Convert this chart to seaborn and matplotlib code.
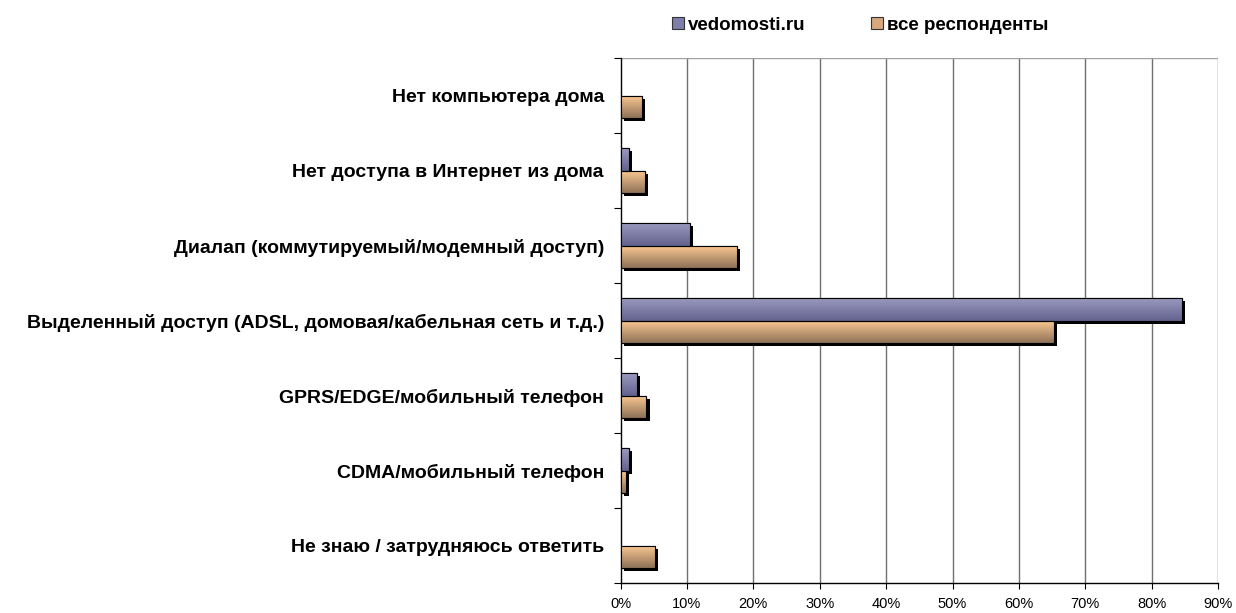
import numpy as np
import pandas as pd
import matplotlib
matplotlib.use("Agg")
import matplotlib.pyplot as plt
import matplotlib.patheffects as pe
from matplotlib.patches import Rectangle
from matplotlib.colors import LinearSegmentedColormap
import seaborn as sns

# data
categories = [
    "Нет компьютера дома",
    "Нет доступа в Интернет из дома",
    "Диалап (коммутируемый/модемный доступ)",
    "Выделенный доступ (ADSL, домовая/кабельная сеть и т.д.)",
    "GPRS/EDGE/мобильный телефон",
    "CDMA/мобильный телефон",
    "Не знаю / затрудняюсь ответить",
]
series_names = ["vedomosti.ru", "все респонденты"]
vedomosti = [0.0, 1.2, 10.5, 84.5, 2.5, 1.3, 0.0]
all_resp = [3.2, 3.7, 17.5, 65.3, 3.9, 0.8, 5.2]
x_ticks = list(range(0, 100, 10))

df = pd.DataFrame({
    "category": categories * 2,
    "series": [series_names[0]] * len(categories) + [series_names[1]] * len(categories),
    "value": vedomosti + all_resp,
})

sns.set_style("white")
plt.rcParams["font.family"] = ["Liberation Sans", "DejaVu Sans"]
plt.rcParams["text.color"] = "black"
plt.rcParams["xtick.color"] = "black"
plt.rcParams["ytick.color"] = "black"

flat = {series_names[0]: "#7a7aa8", series_names[1]: "#e0b088"}
grads = {
    series_names[0]: LinearSegmentedColormap.from_list("v", ["#9a9abf", "#62628f"]),
    series_names[1]: LinearSegmentedColormap.from_list("a", ["#fdc994", "#8f7257"]),
}

fig = plt.figure(figsize=(12.36, 6.13), dpi=100)
ax = fig.add_axes([0.5021, 0.0485, 0.4834, 0.8568])

sns.barplot(data=df, x="value", y="category", hue="series", order=categories,
            hue_order=series_names, palette=flat, width=0.6, orient="h",
            edgecolor="black", linewidth=0.8, ax=ax, legend=False)

# drop shadow + vertical gradient on every bar
shadow = [pe.SimplePatchShadow(offset=(2.3, -2.3), shadow_rgbFace="black", alpha=1.0), pe.Normal()]
grad_img = np.linspace(0, 1, 64).reshape(-1, 1)
for container, name in zip(ax.containers, series_names):
    for bar in container:
        if bar.get_width() <= 0:
            bar.set_visible(False)
            continue
        bar.set_path_effects(shadow)
        bar.set_zorder(3)
        x0, y0 = bar.get_x(), bar.get_y()
        w, h = bar.get_width(), bar.get_height()
        im = ax.imshow(grad_img, cmap=grads[name], aspect="auto",
                       extent=(x0, x0 + w, y0 + h, y0), origin="upper", zorder=3.1)
        im.set_clip_path(bar)
        ax.add_patch(Rectangle((x0, y0), w, h, fill=False, edgecolor="black",
                               linewidth=0.8, zorder=3.2))

ax.set_xlim(0, 90)
ax.set_ylim(len(categories) - 0.5, -0.5)
ax.set_xticks(x_ticks)
ax.set_xticklabels([f"{t}%" for t in x_ticks], fontsize=10.5)
ax.set_xlabel("")
ax.set_ylabel("")
ax.set_yticks(range(len(categories)))
ax.set_yticklabels(categories, fontsize=14, fontweight="bold")
ax.set_yticks(np.arange(-0.5, len(categories), 1.0), minor=True)
ax.tick_params(axis="y", which="both", left=True)
ax.tick_params(axis="x", which="both", bottom=True)
ax.tick_params(axis="y", which="major", length=0, pad=12)
ax.tick_params(axis="y", which="minor", length=5, width=0.8, direction="out")
ax.tick_params(axis="x", which="major", length=4, width=0.8, direction="out", pad=6)

ax.grid(False)
for t in x_ticks[1:]:
    ax.axvline(t, color="#707070", linewidth=1, zorder=1)
ax.axhline(-0.5, color="#a0a0a0", linewidth=1, zorder=1)

for side in ["top", "right"]:
    ax.spines[side].set_visible(False)
for side in ["left", "bottom"]:
    ax.spines[side].set_color("black")
    ax.spines[side].set_linewidth(1)

# legend
handles = [Rectangle((0, 0), 1, 1, facecolor=c, edgecolor="#333333", linewidth=0.8)
           for c in ["#7e7eaa", "#d8a880"]]
fig.legend(handles, series_names, loc="center", bbox_to_anchor=(0.696, 0.959),
           ncol=2, frameon=False, prop={"size": 13.5, "weight": "bold"},
           handlelength=0.64, handleheight=0.64, handletextpad=0.2, columnspacing=3.5)

fig.savefig("out.png", dpi=100)
